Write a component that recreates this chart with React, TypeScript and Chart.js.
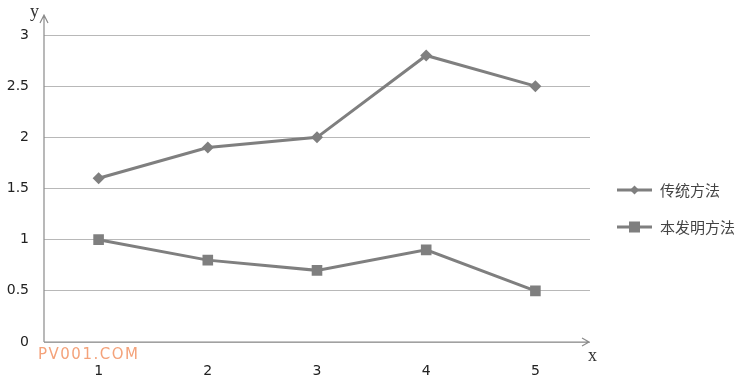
import React, { useEffect, useRef } from "react";
import { Chart, registerables } from "chart.js";

Chart.register(...registerables);

const categories = ["1", "2", "3", "4", "5"];
const traditional = [1.6, 1.9, 2.0, 2.8, 2.5];
const invention = [1.0, 0.8, 0.7, 0.9, 0.5];
const seriesNames = ["传统方法", "本发明方法"];

const LINE = "#7f7f7f";

const decorPlugin = {
  id: "decor",
  afterDraw(chart: any) {
    const ctx = chart.ctx;
    const area = chart.chartArea;
    ctx.save();
    ctx.strokeStyle = "#8a8a8a";
    ctx.lineWidth = 1.2;
    ctx.beginPath();
    ctx.moveTo(area.left, area.bottom);
    ctx.lineTo(area.left, 16);
    ctx.moveTo(area.left - 4, 23);
    ctx.lineTo(area.left, 15);
    ctx.lineTo(area.left + 4, 23);
    ctx.stroke();
    ctx.beginPath();
    ctx.moveTo(area.left, area.bottom);
    ctx.lineTo(area.right - 1, area.bottom);
    ctx.moveTo(area.right - 8, area.bottom - 4);
    ctx.lineTo(area.right - 1, area.bottom);
    ctx.lineTo(area.right - 8, area.bottom + 4);
    ctx.stroke();
    ctx.fillStyle = "#333";
    ctx.font = "18px 'Liberation Serif', serif";
    ctx.textAlign = "left";
    ctx.textBaseline = "alphabetic";
    ctx.fillText("y", 30, 17);
    ctx.fillText("x", 588, 361);
    ctx.fillStyle = "#f4a27a";
    ctx.font = "15px 'DejaVu Sans', sans-serif";
    (ctx as any).letterSpacing = "1.5px";
    ctx.textBaseline = "middle";
    ctx.fillText("PV001.COM", 38, 355);
    (ctx as any).letterSpacing = "0px";
    const rows = [
      { y: 190, name: seriesNames[0], style: "rectRot", r: 4.5 },
      { y: 227, name: seriesNames[1], style: "rect", r: 5.5 },
    ];
    rows.forEach((row) => {
      ctx.strokeStyle = LINE;
      ctx.lineWidth = 3;
      ctx.beginPath();
      ctx.moveTo(617, row.y);
      ctx.lineTo(652, row.y);
      ctx.stroke();
      ctx.fillStyle = LINE;
      if (row.style === "rect") {
        ctx.fillRect(634.5 - row.r, row.y - row.r, row.r * 2, row.r * 2);
      } else {
        ctx.beginPath();
        ctx.moveTo(634.5, row.y - row.r);
        ctx.lineTo(634.5 + row.r, row.y);
        ctx.lineTo(634.5, row.y + row.r);
        ctx.lineTo(634.5 - row.r, row.y);
        ctx.closePath();
        ctx.fill();
      }
      ctx.fillStyle = "#444";
      ctx.font = "15px 'Noto Sans CJK SC', sans-serif";
      ctx.textBaseline = "middle";
      ctx.fillText(row.name, 660, row.y);
    });
    ctx.restore();
  },
};

export default function App() {
  const ref = useRef<HTMLCanvasElement>(null);
  useEffect(() => {
    document.body.style.margin = "0";
    const chart = new Chart(ref.current!, {
      type: "line",
      data: {
        labels: categories,
        datasets: [
          {
            label: seriesNames[0],
            data: traditional,
            borderColor: LINE,
            backgroundColor: LINE,
            borderWidth: 3,
            pointStyle: "rectRot",
            pointRadius: 6,
            pointBorderWidth: 0,
            tension: 0,
          },
          {
            label: seriesNames[1],
            data: invention,
            borderColor: LINE,
            backgroundColor: LINE,
            borderWidth: 3,
            pointStyle: "rect",
            pointRadius: 7.5,
            pointBorderWidth: 0,
            tension: 0,
          },
        ],
      },
      options: {
        responsive: false,
        animation: false,
        layout: { padding: { top: 35, right: 160, left: 0, bottom: 0 } },
        plugins: { legend: { display: false }, tooltip: { enabled: false } },
        scales: {
          x: {
            type: "category",
            offset: true,
            grid: { display: false, drawTicks: false },
            border: { display: false },
            ticks: {
              color: "#222",
              font: { size: 14, family: "'DejaVu Sans', sans-serif" },
              padding: 21,
              maxRotation: 0,
            },
            afterFit(scale: any) {
              scale.height = 39;
            },
          },
          y: {
            min: 0,
            max: 3,
            grid: { color: "#b8b8b8", lineWidth: 1, drawTicks: false },
            border: { display: false },
            ticks: {
              stepSize: 0.5,
              color: "#222",
              font: { size: 14, family: "'DejaVu Sans', sans-serif" },
              padding: 15,
              callback: (v: any) => String(v),
            },
            afterFit(scale: any) {
              scale.width = 44;
            },
          },
        },
      },
      plugins: [decorPlugin],
    });
    return () => chart.destroy();
  }, []);
  return <canvas ref={ref} width={750} height={381} style={{ display: "block" }} />;
}
